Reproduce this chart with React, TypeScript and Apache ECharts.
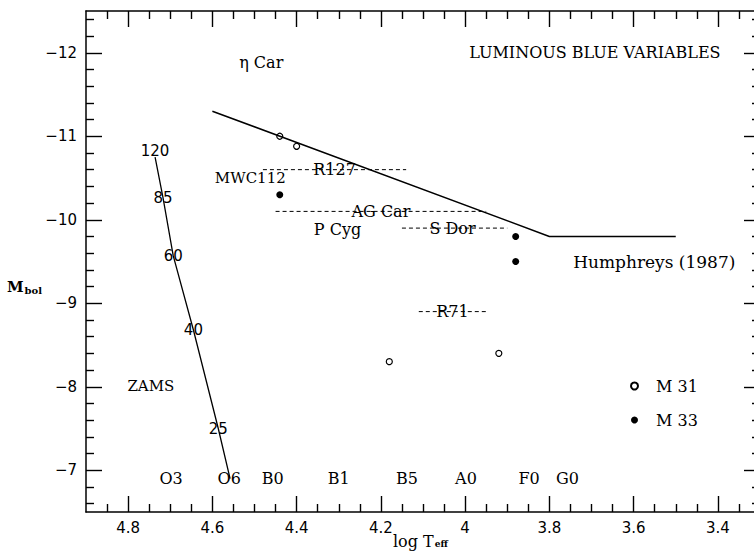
import React, { useEffect, useRef } from "react";
import * as echarts from "echarts";

// ---- data ----
const humphreysLimit: [number, number][] = [
  [4.6, -11.3],
  [3.8, -9.8],
  [3.5, -9.8],
];

const zamsTrack: [number, number][] = [
  [4.736, -10.75],
  [4.717, -10.26],
  [4.693, -9.57],
  [4.645, -8.68],
  [4.586, -7.5],
  [4.558, -6.9],
];

const zamsMasses = ["120", "85", "60", "40", "25"];

const m31Stars: [number, number][] = [
  [4.44, -11.0],
  [4.4, -10.88],
  [4.18, -8.3],
  [3.92, -8.4],
];

const m33Stars: [number, number][] = [
  [4.44, -10.3],
  [3.88, -9.8],
  [3.88, -9.5],
];

// LBV excursion ranges: name, logT from, logT to, Mbol, label logT
const lbvNames = ["R127", "AG Car", "S Dor", "R71"];
const lbvFrom = [4.48, 4.45, 4.15, 4.11];
const lbvTo = [4.14, 3.95, 3.9, 3.95];
const lbvMbol = [-10.6, -10.1, -9.9, -8.9];
const lbvLabelT = [4.31, 4.2, 4.03, 4.03];

const spectralTypes = ["O3", "O6", "B0", "B1", "B5", "A0", "F0", "G0"];
const spectralLogT = [4.698, 4.56, 4.457, 4.3, 4.138, 3.998, 3.848, 3.757];
const spectralMbol = -6.9;

const otherLabels = ["η Car", "MWC112", "P Cyg", "LUMINOUS BLUE VARIABLES", "Humphreys (1987)", "ZAMS"];
const otherLabelT = [4.484, 4.51, 4.303, 3.692, 3.551, 4.746];
const otherLabelM = [-11.88, -10.5, -9.88, -12.0, -9.5, -8.01];
const otherLabelSize = [16, 15, 16, 16, 17, 15];

const xMajorTicks = [4.8, 4.6, 4.4, 4.2, 4.0, 3.8, 3.6, 3.4];
const yMajorTicks = [-12, -11, -10, -9, -8, -7];

const X_MIN = 3.3;
const X_MAX = 4.9;
const Y_MIN = -12.5;
const Y_MAX = -6.5;

const xMinorTicks: number[] = [];
for (let k = 67; k <= 97; k++) if (k % 4 !== 0) xMinorTicks.push(+(k * 0.05).toFixed(2));
const yMinorTicks: number[] = [];
for (let k = -62; k <= -33; k++) if (k % 5 !== 0) yMinorTicks.push(+(k * 0.2).toFixed(1));

const SERIF = "DejaVu Serif";
const SANS = "DejaVu Sans";
const CLEAR = "rgba(0,0,0,0)";

function xAxisDef(position: "top" | "bottom", ticks: number[], len: number, withLabel: boolean, withLine: boolean, extra: any = {}) {
  return {
    type: "value",
    min: X_MIN,
    max: X_MAX,
    inverse: true,
    position,
    axisLine: { show: withLine, onZero: false, lineStyle: { color: "#000", width: 1.5 } },
    axisTick: { show: true, inside: true, length: len, customValues: ticks, lineStyle: { color: "#000", width: 1.4 } },
    axisLabel: withLabel
      ? {
          show: true,
          customValues: ticks,
          margin: 8,
          color: "#000",
          fontFamily: SANS,
          fontSize: 15,
          formatter: (v: number) => String(+v.toFixed(1)),
        }
      : { show: false },
    splitLine: { show: false },
    ...extra,
  };
}

function yAxisDef(position: "left" | "right", ticks: number[], len: number, withLabel: boolean, withLine: boolean) {
  return {
    type: "value",
    min: Y_MIN,
    max: Y_MAX,
    inverse: true,
    position,
    axisLine: { show: withLine, onZero: false, lineStyle: { color: "#000", width: 1.5 } },
    axisTick: { show: true, inside: true, length: len, customValues: ticks, lineStyle: { color: "#000", width: 1.4 } },
    axisLabel: withLabel
      ? {
          show: true,
          customValues: ticks,
          margin: 9,
          color: "#000",
          fontFamily: SANS,
          fontSize: 15,
          formatter: (v: number) => "\u2212" + Math.abs(v),
        }
      : { show: false },
    splitLine: { show: false },
  };
}

const textLabel = {
  show: true,
  position: "inside",
  formatter: "{b}",
  color: "#000",
  fontFamily: SERIF,
  fontSize: 16,
  opacity: 1,
};

export default function App() {
  const ref = useRef<HTMLDivElement>(null);
  useEffect(() => {
    document.body.style.margin = "0";
    const chart = echarts.init(ref.current!, null, { renderer: "svg" });

    const series: any[] = [];

    series.push({
      name: "Humphreys (1987)",
      type: "line",
      data: humphreysLimit,
      symbol: "none",
      lineStyle: { color: "#000", width: 1.5 },
      silent: true,
    });
    series.push({
      name: "ZAMS",
      type: "line",
      data: zamsTrack,
      symbol: "none",
      lineStyle: { color: "#000", width: 1.3 },
      silent: true,
    });
    series.push({
      name: "ZAMS masses",
      type: "scatter",
      symbolSize: 1,
      itemStyle: { color: CLEAR, opacity: 1 },
      silent: true,
      data: zamsMasses.map((m, i) => ({
        name: m,
        value: zamsTrack[i],
        label: i === 0 ? { position: "top", distance: -2 } : undefined,
      })),
      label: { show: true, position: "inside", formatter: "{b}", color: "#000", fontFamily: SANS, fontSize: 15, opacity: 1 },
    });

    lbvNames.forEach((n, i) => {
      series.push({
        name: n + " range",
        type: "line",
        data: [
          [lbvFrom[i], lbvMbol[i]],
          [lbvTo[i], lbvMbol[i]],
        ],
        symbol: "none",
        lineStyle: { color: "#000", width: 1, type: [4, 3] },
        silent: true,
      });
    });

    series.push({
      name: "labels",
      type: "scatter",
      symbolSize: 1,
      itemStyle: { color: CLEAR, opacity: 1 },
      silent: true,
      label: textLabel,
      data: [
        ...lbvNames.map((n, i) => ({ name: n, value: [lbvLabelT[i], lbvMbol[i]] })),
        ...spectralTypes.map((n, i) => ({ name: n, value: [spectralLogT[i], spectralMbol] })),
        ...otherLabels.map((n, i) => ({
          name: n,
          value: [otherLabelT[i], otherLabelM[i]],
          label: { fontSize: otherLabelSize[i] },
        })),
      ],
    });

    series.push({
      name: "M 31",
      type: "scatter",
      data: m31Stars,
      symbol: "circle",
      symbolSize: 6,
      itemStyle: { color: "#fff", borderColor: "#000", borderWidth: 1.2, opacity: 1 },
      silent: true,
    });
    series.push({
      name: "M 33",
      type: "scatter",
      data: m33Stars,
      symbol: "circle",
      symbolSize: 7,
      itemStyle: { color: "#000", opacity: 1 },
      silent: true,
    });

    const option: any = {
      animation: false,
      backgroundColor: "#fff",
      grid: { left: 86, top: 11, width: 674, height: 501, containLabel: false, outerBoundsMode: "none" },
      legend: {
        data: ["M 31", "M 33"],
        orient: "vertical",
        left: 630,
        top: 378,
        padding: 0,
        itemWidth: 7,
        itemHeight: 7,
        itemGap: 18,
        selectedMode: false,
        textStyle: { color: "#000", fontFamily: SERIF, fontSize: 16, lineHeight: 16, padding: [0, 0, 0, 13] },
      },
      xAxis: [
        xAxisDef("bottom", xMajorTicks, 16, true, true),
        xAxisDef("bottom", xMinorTicks, 8, false, false),
        xAxisDef("top", xMajorTicks, 16, false, true),
        xAxisDef("top", xMinorTicks, 8, false, false),
      ],
      yAxis: [
        yAxisDef("left", yMajorTicks, 16, true, true),
        yAxisDef("left", yMinorTicks, 8, false, false),
        yAxisDef("right", yMajorTicks, 16, false, true),
        yAxisDef("right", yMinorTicks, 8, false, false),
      ],
      graphic: [
        {
          type: "text",
          left: 7,
          top: 279,
          style: {
            text: "{a|M}{b|bol}",
            rich: {
              a: { fontFamily: SERIF, fontSize: 15, fill: "#000", fontWeight: "bold" },
              b: { fontFamily: SERIF, fontSize: 10, fill: "#000", fontWeight: "bold", padding: [8, 0, 0, 1] },
            },
          },
        },
        {
          type: "text",
          left: 393,
          top: 533,
          style: {
            text: "{a|log T}{b|eff}",
            rich: {
              a: { fontFamily: SERIF, fontSize: 16, fill: "#000" },
              b: { fontFamily: SERIF, fontSize: 9, fill: "#000", fontWeight: "bold", padding: [6, 0, 0, 1] },
            },
          },
        },
      ],
      series,
    };
    chart.setOption(option);
    return () => chart.dispose();
  }, []);
  return <div ref={ref} style={{ width: 754, height: 554 }} />;
}
